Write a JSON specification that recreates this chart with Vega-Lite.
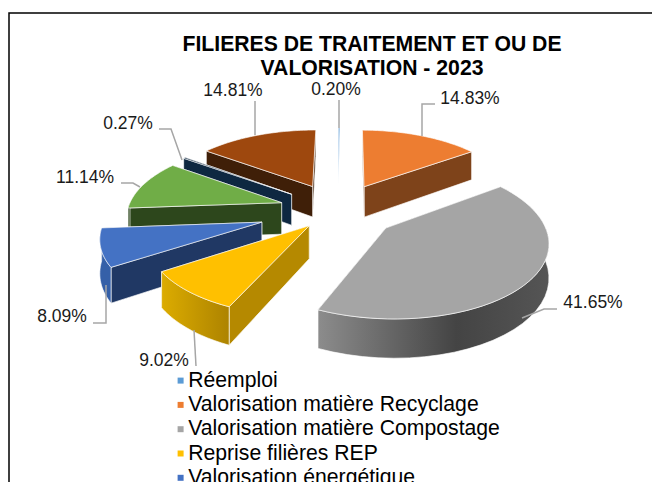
{
"$schema":"https://vega.github.io/schema/vega-lite/v6.json",
"autosize":{"type":"none"},
"padding":{"left":9,"top":13,"right":0,"bottom":0},
"width":700,"height":500,
"background":"white",
"config":{"view":{"stroke":"#000000","strokeWidth":1.5},"font":"Liberation Sans"},
"title":{"text":["FILIERES DE TRAITEMENT ET OU DE","VALORISATION - 2023"],"font":"Liberation Sans","fontSize":21.2,"fontWeight":"bold","color":"#000000","anchor":"middle","dx":13,"offset":-66,"lineHeight":24},
"data":{"values":[
{"name":"Valorisation matière Recyclage","value":14.83,"ordre":1},
{"name":"Réemploi","value":0.20,"ordre":0},
{"name":"Catégorie non lisible 3","value":14.81,"ordre":7},
{"name":"Catégorie non lisible 2","value":0.27,"ordre":6},
{"name":"Catégorie non lisible 1","value":11.14,"ordre":5},
{"name":"Valorisation énergétique","value":8.09,"ordre":4},
{"name":"Reprise filières  REP","value":9.02,"ordre":3},
{"name":"Valorisation matière Compostage","value":41.65,"ordre":2}
]},
"layer":[
{"transform":[
{"window":[{"op":"sum","field":"value","as":"cum"}],"sort":[{"field":"ordre"}]},
{"calculate":"(datum.cum-datum.value)/100.01*2*PI","as":"a1"},
{"calculate":"datum.cum/100.01*2*PI","as":"a2"},
{"calculate":"[.386,.386,.386,.28,.51,.386,.386,.386][datum.ordre]","as":"e"},
{"calculate":"max(datum.a1,PI/2)","as":"w1"},
{"calculate":"min(datum.a2,3*PI/2)","as":"w2"},
{"calculate":"[0,1,2,3]","as":"p"},{"flatten":["p"]},
{"calculate":"[0,1,2,3,4,5,6,7,8,9,10,11,12,13,14,15,16,17,18,19,20,21,22,23,24,25,26,27,28,29,30,31,32,33,34,35,36,37,38,39,40,41,42,43,44,45,46,47,48,49]","as":"t"},{"flatten":["t"]},
{"filter":"(datum.p>=2||datum.t<4)&&(datum.p!=2||datum.w2>datum.w1)"},
{"calculate":"datum.p==3?datum.a1+(datum.a2-datum.a1)*max(datum.t-1,0)/48:datum.p==2?datum.w1+(datum.w2-datum.w1)*(datum.t<25?datum.t:49-datum.t)/24:datum.p==1?datum.a1:datum.a2","as":"ang"},
{"calculate":"datum.p==3?(datum.t==0?0:1):datum.p==2?1:((datum.t==1||datum.t==2)?1:0)","as":"r"},
{"calculate":"datum.p==3?0:datum.p==2?(datum.t<25?0:1):(datum.t>=2?1:0)","as":"z"},
{"calculate":"datum.e*sin((datum.a1+datum.a2)/2)+datum.r*sin(datum.ang)","as":"gx"},
{"calculate":"datum.e*cos((datum.a1+datum.a2)/2)+datum.r*cos(datum.ang)","as":"gy"},
{"calculate":"1/(1+0.149*datum.gy)","as":"s"},
{"calculate":"154*datum.gx*datum.s","as":"u"},
{"calculate":"(71.4*datum.gy-32*datum.z)*datum.s","as":"v"},
{"calculate":"datum.p==3?datum.name:datum.name+'|'+datum.p","as":"key"}
],
"mark":{"type":"line","interpolate":"linear-closed","stroke":"#ffffff","strokeWidth":0.8,"strokeOpacity":0.8},
"encoding":{
"x":{"field":"u","type":"quantitative","scale":{"domain":[-329,371],"nice":false,"zero":false},"axis":null},
"y":{"field":"v","type":"quantitative","scale":{"domain":[-303,197],"nice":false,"zero":false},"axis":null},
"order":{"field":"t","type":"quantitative"},
"detail":{"field":"key"},
"fill":{"field":"key","type":"nominal","sort":null,
"scale":{"domain":["Réemploi","Valorisation matière Recyclage","Valorisation matière Compostage","Reprise filières  REP","Valorisation énergétique","Catégorie non lisible 1","Catégorie non lisible 2","Catégorie non lisible 3",
"Réemploi|0","Réemploi|1","Réemploi|2",
"Valorisation matière Recyclage|0","Valorisation matière Recyclage|1","Valorisation matière Recyclage|2",
"Valorisation matière Compostage|0","Valorisation matière Compostage|1","Valorisation matière Compostage|2",
"Reprise filières  REP|0","Reprise filières  REP|1","Reprise filières  REP|2",
"Valorisation énergétique|0","Valorisation énergétique|1","Valorisation énergétique|2",
"Catégorie non lisible 1|0","Catégorie non lisible 1|1","Catégorie non lisible 1|2",
"Catégorie non lisible 2|0","Catégorie non lisible 2|1","Catégorie non lisible 2|2",
"Catégorie non lisible 3|0","Catégorie non lisible 3|1","Catégorie non lisible 3|2"],
"range":["#5B9BD5","#ED7D31","#A5A5A5","#FFC000","#4472C4","#70AD47","#0E2841","#9E480E",
"#ffffff","#ffffff","#ffffff",
"#7E431A","#7E431A","#7E431A",
"#6e6e6e","#6e6e6e",{"expr":"{gradient:'linear',x1:0,y1:0,x2:1,y2:0,stops:[{offset:0,color:'#8c8c8c'},{offset:0.6,color:'#444444'},{offset:1,color:'#555555'}]}"},
"#B58900","#B58900",{"expr":"{gradient:'linear',x1:0,y1:0,x2:1,y2:0,stops:[{offset:0,color:'#DCAC00'},{offset:1,color:'#AD8300'}]}"},
"#203864","#203864","#3560A8",
"#2D471C","#2D471C","#2D471C",
"#0E2841","#0E2841","#0E2841",
"#3F1F08","#3F1F08","#3F1F08"]},
"legend":{"values":["Réemploi","Valorisation matière Recyclage","Valorisation matière Compostage","Reprise filières  REP","Valorisation énergétique"],"title":null,"orient":"none","legendX":161,"legendY":357,"symbolType":"square","symbolSize":36,"symbolStrokeWidth":0,"labelFontSize":21.2,"labelFont":"Liberation Sans","labelColor":"#000000","rowPadding":2.3,"labelOffset":-3,"labelLimit":500}}
}},
{"transform":[
{"calculate":"[0,1,2]","as":"i"},{"flatten":["i"]},
{"calculate":"[[1,1],[97,84,84],[219,206,184],[-142,-144],[-245,-232,-232],[-217,-205,-198],[-179,-167,-156],[-83,-83]][datum.ordre][datum.i]","as":"u"},
{"calculate":"[[110,82],[106,106,74],[-99,-99,-108],[-156,-120],[-113,-113,-75],[27,27,23],[81,81,50],[109,75]][datum.ordre][datum.i]","as":"v"},
{"filter":"isValid(datum.u)"}
],
"mark":{"type":"line","color":"#A6A6A6","strokeWidth":1.5},
"encoding":{
"x":{"field":"u","type":"quantitative","axis":null},
"y":{"field":"v","type":"quantitative","axis":null},
"order":{"field":"i","type":"quantitative"},
"detail":{"field":"name"}
}},
{"transform":[
{"calculate":"[-2,132,255,-174,-276,-253,-210,-105][datum.ordre]","as":"u"},
{"calculate":"[120,111,-93,-151,-107,32,86,119][datum.ordre]","as":"v"},
{"calculate":"format(datum.value,'.2f')+'%'","as":"lab"}
],
"mark":{"type":"text","font":"Liberation Sans","fontSize":17.5,"color":"#1a1a1a","align":"center","baseline":"middle"},
"encoding":{
"x":{"field":"u","type":"quantitative","axis":null},
"y":{"field":"v","type":"quantitative","axis":null},
"text":{"field":"lab"}
}}
]
}
